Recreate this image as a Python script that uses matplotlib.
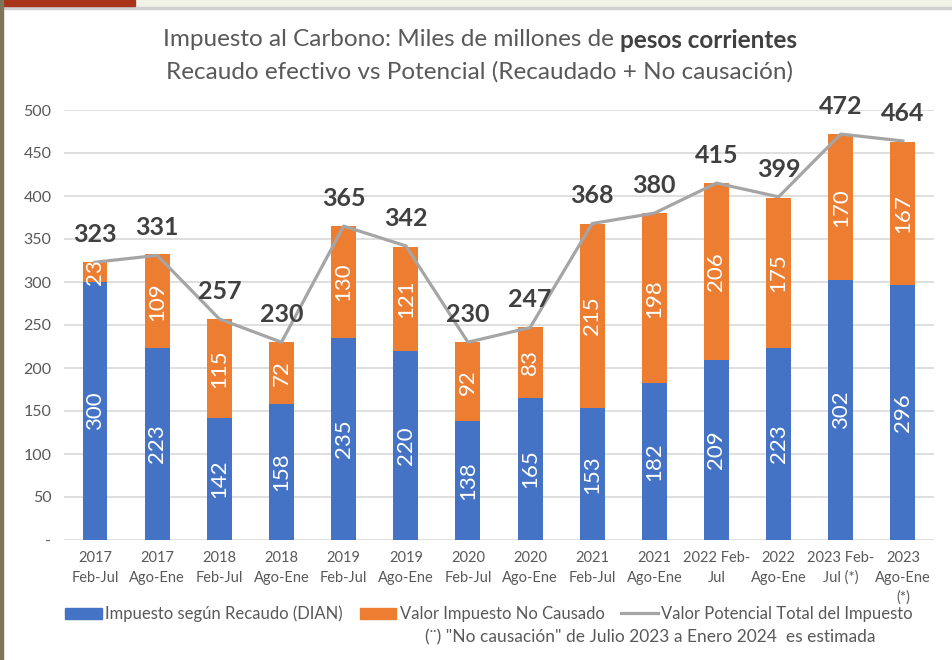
import matplotlib.pyplot as plt
import numpy as np

plt.rcParams['font.family'] = ['Lato', 'DejaVu Sans']

categorias = ['2017\nFeb-Jul', '2017\nAgo-Ene', '2018\nFeb-Jul', '2018\nAgo-Ene',
              '2019\nFeb-Jul', '2019\nAgo-Ene', '2020\nFeb-Jul', '2020\nAgo-Ene',
              '2021\nFeb-Jul', '2021\nAgo-Ene', '2022 Feb-\nJul', '2022\nAgo-Ene',
              '2023 Feb-\nJul (*)', '2023\nAgo-Ene\n(*)']
recaudo = [300, 223, 142, 158, 235, 220, 138, 165, 153, 182, 209, 223, 302, 296]
no_causado = [23, 109, 115, 72, 130, 121, 92, 83, 215, 198, 206, 175, 170, 167]
potencial = [323, 331, 257, 230, 365, 342, 230, 247, 368, 380, 415, 399, 472, 464]
yticks = [0, 50, 100, 150, 200, 250, 300, 350, 400, 450, 500]
ytick_labels = ['-', '50', '100', '150', '200', '250', '300', '350', '400', '450', '500']

azul = '#4472C4'
naranja = '#ED7D31'
gris = '#A5A5A5'
texto = '#595959'

fig = plt.figure(figsize=(9.53, 6.60), dpi=100)
ax = fig.add_axes([64 / 953, 1 - 540 / 660, 870 / 953, 430 / 660])

x = np.arange(len(categorias))
b1 = ax.bar(x, recaudo, width=0.4, color=azul, zorder=2)
b2 = ax.bar(x, no_causado, width=0.4, bottom=recaudo, color=naranja, zorder=2)
ax.plot(x, potencial, color=gris, lw=2.3, zorder=3)

# etiquetas dentro de las barras (recortadas a la barra)
for bars, vals in ((b1, recaudo), (b2, no_causado)):
    for r, v in zip(bars, vals):
        t = ax.text(r.get_x() + r.get_width() / 2, r.get_y() + r.get_height() / 2, str(v),
                    rotation=90, ha='center', va='center', color='white', fontsize=16, zorder=4)
        t.set_clip_path(r)

for xi, v in zip(x, potencial):
    ax.annotate(str(v), (xi, v), xytext=(0, 20), textcoords='offset points',
                ha='center', va='center', fontsize=18, fontweight='bold', color='#404040',
                zorder=5)

ax.set_xlim(-0.5, len(categorias) - 0.5)
ax.set_ylim(0, 500)
ax.set_yticks(yticks)
ax.set_yticklabels(ytick_labels)
ax.set_xticks(x)
ax.set_xticklabels(categorias, linespacing=1.5)
ax.tick_params(axis='y', length=0, pad=9, labelsize=11.5, labelcolor=texto)
ax.tick_params(axis='x', length=0, pad=8, labelsize=10.5, labelcolor=texto)
ax.grid(axis='y', color='#d9d9d9', lw=1.2, zorder=0)
ax.set_axisbelow(True)
for s in ax.spines.values():
    s.set_visible(False)

# titulo en dos lineas, con parte en negrita
y1 = 1 - 40 / 660
t1 = fig.text(0, y1, 'Impuesto al Carbono: Miles de millones de ',
              ha='left', va='center', fontsize=17.5, color=texto)
t2 = fig.text(0, y1, 'pesos corrientes',
              ha='left', va='center', fontsize=17.5, color='#404040', fontweight='bold')
fig.canvas.draw()
w1 = t1.get_window_extent().width
w2 = t2.get_window_extent().width
x0 = 480 - (w1 + w2) / 2
t1.set_x(x0 / fig.bbox.width)
t2.set_x((x0 + w1) / fig.bbox.width)
fig.text(480 / 953, 1 - 72 / 660, 'Recaudo efectivo vs Potencial (Recaudado + No causación)',
         ha='center', va='center', fontsize=17.5, color=texto)

# leyenda
handles = [plt.Rectangle((0, 0), 1, 1, color=azul), plt.Rectangle((0, 0), 1, 1, color=naranja),
           plt.Line2D([], [], color=gris, lw=2.3)]
fig.legend(handles, ['Impuesto según Recaudo (DIAN)', 'Valor Impuesto No Causado',
                     'Valor Potencial Total del Impuesto'],
           loc='center', bbox_to_anchor=(489 / 953, 1 - 614 / 660), ncol=3, frameon=False,
           fontsize=12, labelcolor=texto, handlelength=2.2, handleheight=0.7,
           columnspacing=1.0, handletextpad=0.2)
fig.text(425 / 953, 1 - 637 / 660, '(¨) "No causación" de Julio 2023 a Enero 2024  es estimada',
         ha='left', va='center', fontsize=12.5, color=texto)

# marco de la diapositiva
fig.patches.append(plt.Rectangle((0, 1 - 8 / 660), 1, 8 / 660, transform=fig.transFigure,
                                 color='#f2f3e8', zorder=0))
fig.patches.append(plt.Rectangle((0, 1 - 9 / 660), 1, 1.5 / 660, transform=fig.transFigure,
                                 color='#d0d0d0', zorder=1))
fig.patches.append(plt.Rectangle((0, 1 - 6 / 660), 135 / 953, 6 / 660, transform=fig.transFigure,
                                 color='#A8341A', zorder=2))
fig.patches.append(plt.Rectangle((0, 0), 3 / 953, 1, transform=fig.transFigure,
                                 color='#7d7658', zorder=2))

fig.savefig('out.png', dpi=100)
